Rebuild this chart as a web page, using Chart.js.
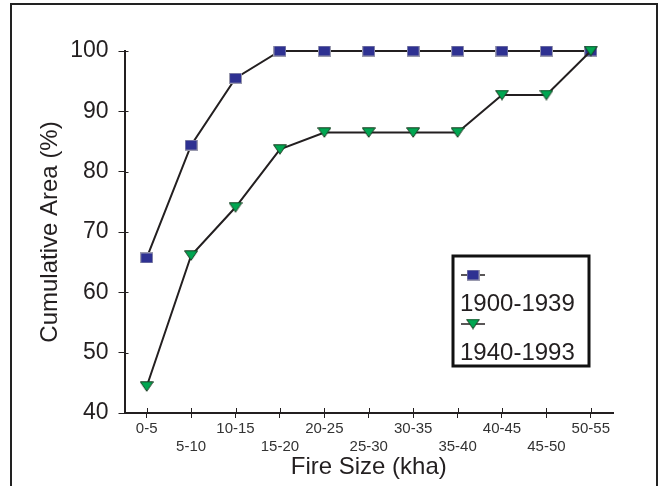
<!DOCTYPE html>
<html>
<head>
<meta charset="utf-8">
<script src="https://cdn.jsdelivr.net/npm/chart.js@4"></script>
<style>
  html, body { margin: 0; padding: 0; background: #fff; overflow: hidden; }
  #wrap { position: relative; width: 660px; height: 486px; }
  #frame { position: absolute; left: 10px; top: 3px; width: 644px; height: 500px;
           border: 2px solid #222; pointer-events: none; }
</style>
</head>
<body>
<div id="wrap">
  <canvas id="myChart" width="660" height="486"></canvas>
  <div id="frame"></div>
</div>
<script>
const categories = ['0-5', '5-10', '10-15', '15-20', '20-25', '25-30', '30-35', '35-40', '40-45', '45-50', '50-55'];
const early = [65.7, 84.4, 95.5, 100, 100, 100, 100, 100, 100, 100, 100];
const late = [44.4, 66.1, 74.1, 83.7, 86.5, 86.5, 86.5, 86.5, 92.7, 92.7, 100];
const seriesNames = ['1900-1939', '1940-1993'];

const ink = '#231f20';
const FONT = "'Liberation Sans', Arial, sans-serif";

// marker pictures
function squareMarker() {
    const c = document.createElement('canvas');
    c.width = 13; c.height = 11;
    const g = c.getContext('2d');
    g.fillStyle = '#2e3192';
    g.fillRect(0, 0, 13, 11);
    g.strokeStyle = '#9a9aae';
    g.lineWidth = 1;
    g.strokeRect(0.5, 0.5, 12, 10);
    return c;
}
function triangleMarker() {
    const c = document.createElement('canvas');
    c.width = 14; c.height = 11;
    const g = c.getContext('2d');
    g.beginPath();
    g.moveTo(0.5, 0.8);
    g.lineTo(13.5, 0.8);
    g.lineTo(7, 10.3);
    g.closePath();
    g.fillStyle = '#00a651';
    g.fill();
    g.strokeStyle = '#1d3b22';
    g.lineWidth = 1;
    g.stroke();
    return c;
}
const sq = squareMarker();
const tri = triangleMarker();

// small tick stubs inside the plot, like the original axes
const innerTicks = {
    id: 'innerTicks',
    afterDatasetsDraw(chart) {
        const ctx = chart.ctx, a = chart.chartArea;
        const xs = chart.scales.x, ys = chart.scales.y;
        ctx.save();
        ctx.strokeStyle = ink;
        ctx.lineWidth = 1;
        ctx.beginPath();
        ys.ticks.forEach((t, i) => {
            const y = Math.round(ys.getPixelForTick(i)) + 0.5;
            ctx.moveTo(a.left, y); ctx.lineTo(a.left + 4, y);
        });
        xs.ticks.forEach((t, i) => {
            const x = Math.round(xs.getPixelForTick(i)) + 0.5;
            ctx.moveTo(x, a.bottom); ctx.lineTo(x, a.bottom - 5);
        });
        ctx.stroke();
        ctx.restore();
    }
};

// boxed legend with marker above each name
const boxLegend = {
    id: 'boxLegend',
    afterDraw(chart) {
        const ctx = chart.ctx, a = chart.chartArea;
        const left = a.right - 160, top = a.bottom - 157;
        ctx.save();
        ctx.strokeStyle = '#111';
        ctx.lineWidth = 3;
        ctx.strokeRect(left, top, 136, 110);
        ctx.font = '24px ' + FONT;
        ctx.fillStyle = ink;
        ctx.textBaseline = 'middle';
        chart.data.datasets.slice().sort((p, q) => p.legendOrder - q.legendOrder).forEach((ds, i) => {
            const my = top + 19 + i * 49;
            ctx.strokeStyle = ink;
            ctx.lineWidth = 1.5;
            ctx.beginPath();
            ctx.moveTo(left + 8, my); ctx.lineTo(left + 32, my);
            ctx.stroke();
            const img = ds.pointStyle;
            ctx.drawImage(img, left + 20 - img.width / 2, my - img.height / 2);
            ctx.fillText(ds.label, left + 7, my + 29);
        });
        ctx.restore();
    }
};

const data = {
    labels: categories,
    datasets: [
        {
            label: seriesNames[0],
            data: early,
            borderColor: ink,
            borderWidth: 2,
            pointStyle: sq,
            pointRadius: 7,
            tension: 0,
            clip: false,
            order: 2,
            legendOrder: 0
        },
        {
            label: seriesNames[1],
            data: late,
            borderColor: ink,
            borderWidth: 2,
            pointStyle: tri,
            pointRadius: 7,
            tension: 0,
            clip: false,
            order: 1,
            legendOrder: 1
        }
    ]
};

const config = {
    type: 'line',
    data: data,
    options: {
        responsive: false,
        animation: false,
        events: [],
        layout: { padding: { left: 25, top: 51, right: 47, bottom: 0 } },
        plugins: {
            legend: { display: false },
            tooltip: { enabled: false }
        },
        scales: {
            x: {
                type: 'category',
                offset: true,
                border: { display: true, color: ink, width: 2 },
                grid: { display: true, drawOnChartArea: false, offset: false, tickLength: 5, color: ink, lineWidth: 1 },
                ticks: {
                    autoSkip: false,
                    maxRotation: 0,
                    padding: 1,
                    color: '#333',
                    font: { family: FONT, size: 15, lineHeight: 1.25 },
                    callback: function (value, index) {
                        const lab = this.getLabelForValue(value);
                        return index % 2 ? ['', lab] : lab;
                    }
                },
                title: {
                    display: true,
                    text: 'Fire Size (kha)',
                    color: ink,
                    font: { family: FONT, size: 24 },
                    padding: { top: 0, bottom: 4 }
                },
                afterFit(scale) { scale.height = 73; }
            },
            y: {
                min: 40,
                max: 100,
                border: { display: true, color: ink, width: 2 },
                grid: { display: true, drawOnChartArea: false, tickLength: 6, color: ink, lineWidth: 1 },
                ticks: {
                    stepSize: 5,
                    padding: 10,
                    color: ink,
                    font: { family: FONT, size: 23 },
                    callback: v => (v % 10 === 0 ? v : '')
                },
                title: {
                    display: true,
                    text: 'Cumulative Area (%)',
                    color: ink,
                    font: { family: FONT, size: 24 },
                    padding: { top: 11, bottom: 0 }
                },
                afterFit(scale) { scale.width = 99.5; }
            }
        }
    },
    plugins: [innerTicks, boxLegend]
};

new Chart(document.getElementById('myChart'), config);
</script>
</body>
</html>
